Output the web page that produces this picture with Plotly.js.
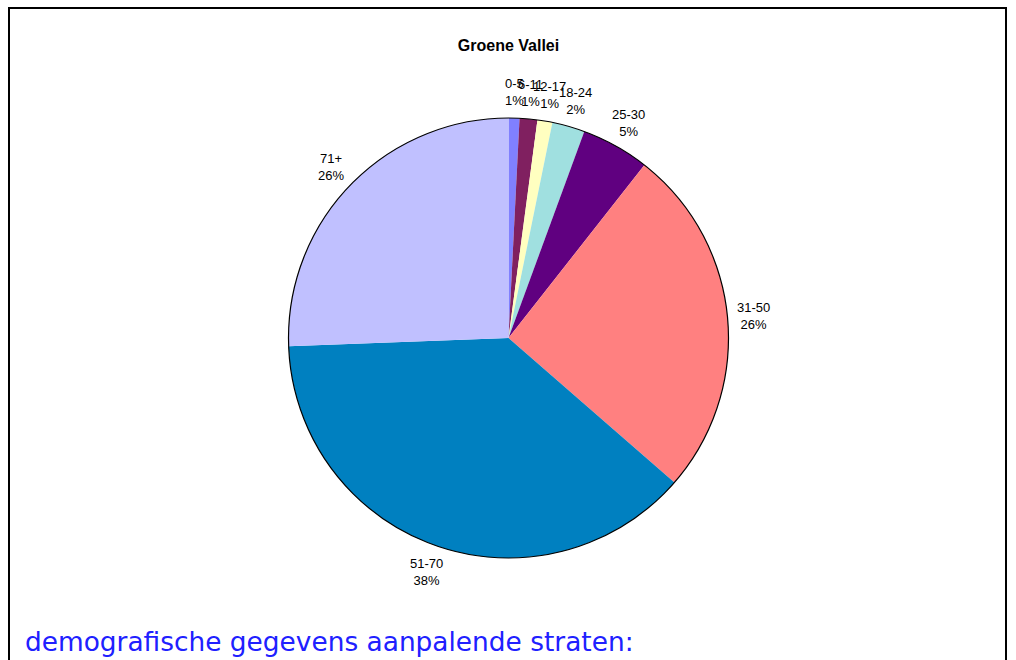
<!DOCTYPE html>
<html>
<head>
<meta charset="utf-8">
<script src="https://cdn.plot.ly/plotly-3.0.1.min.js"></script>
<style>html,body{margin:0;padding:0;background:#fff;}#chart{width:1016px;height:660px;}</style>
</head>
<body>
<div id="chart"></div>
<script>
// Data
const categories = ["0-5", "6-11", "12-17", "18-24", "25-30", "31-50", "51-70", "71+"];
const shares = [0.8, 1.3, 1.1, 2.4, 5.0, 25.8, 38.0, 25.6];
const sliceColors = ["#8080FF", "#802060", "#FFFFC0", "#A0E0E0", "#600080", "#FF8080", "#0080C0", "#C0C0FF"];
const chartTitle = "Groene Vallei";
const footerText = "demografische gegevens aanpalende straten:";

// Layout geometry (pixels)
const W = 1016, H = 660;
const cx = 508.5, cy = 338, R = 220;
const dom = {x: [(cx - R) / W, (cx + R) / W], y: [1 - (cy + R) / H, 1 - (cy - R) / H]};

const pie = {
  type: "pie",
  values: shares,
  labels: categories,
  sort: false,
  direction: "clockwise",
  rotation: 0,
  marker: {colors: sliceColors, line: {width: 0}},
  textinfo: "none",
  hoverinfo: "label+percent",
  showlegend: false,
  domain: dom
};
const outline = {
  type: "pie",
  values: [1],
  labels: ["outline"],
  marker: {colors: ["rgba(0,0,0,0)"], line: {color: "#000", width: 1.2}},
  textinfo: "none",
  hoverinfo: "skip",
  showlegend: false,
  domain: dom
};

// Label annotations positioned around the pie at each slice's mid-angle
const total = shares.reduce((a, b) => a + b, 0);
const annotations = [];
let cum = 0;
const D0 = 1.043 * R, halfW = 17, halfH = 18;
shares.forEach((v, i) => {
  const mid = (cum + v / 2) / total;
  cum += v;
  const th = 2 * Math.PI * mid;
  const s = Math.sin(th), c = Math.cos(th);
  const px = cx + D0 * s + halfW * s;
  const py = cy - D0 * c - halfH * c + 1;
  annotations.push({
    xref: "paper", yref: "paper",
    x: px / W, y: 1 - py / H,
    xanchor: "center", yanchor: "middle",
    text: categories[i] + "<br>" + Math.round(v / total * 100) + "%",
    showarrow: false,
    font: {family: "Liberation Sans, Arial, sans-serif", size: 13, color: "#000"}
  });
});
annotations.push({
  xref: "paper", yref: "paper",
  x: 24 / W, y: 1 - 641 / H,
  xanchor: "left", yanchor: "middle",
  text: footerText,
  showarrow: false,
  borderpad: 0,
  font: {family: "DejaVu Sans, sans-serif", size: 26.4, color: "#2020FF"}
});

const layout = {
  width: W, height: H,
  margin: {l: 0, r: 0, t: 0, b: 0},
  paper_bgcolor: "#fff",
  title: {
    text: "<b>" + chartTitle + "</b>",
    x: cx / W, xanchor: "center",
    y: 1 - 45 / H, yanchor: "middle",
    font: {family: "Liberation Sans, Arial, sans-serif", size: 16, color: "#000"}
  },
  annotations: annotations,
  shapes: [{
    type: "rect", xref: "paper", yref: "paper",
    x0: 9 / W, x1: 1006 / W, y0: -0.1, y1: 1 - 8 / H,
    line: {color: "#000", width: 2}
  }]
};

Plotly.newPlot("chart", [pie, outline], layout, {displayModeBar: false, staticPlot: true});
</script>
</body>
</html>
